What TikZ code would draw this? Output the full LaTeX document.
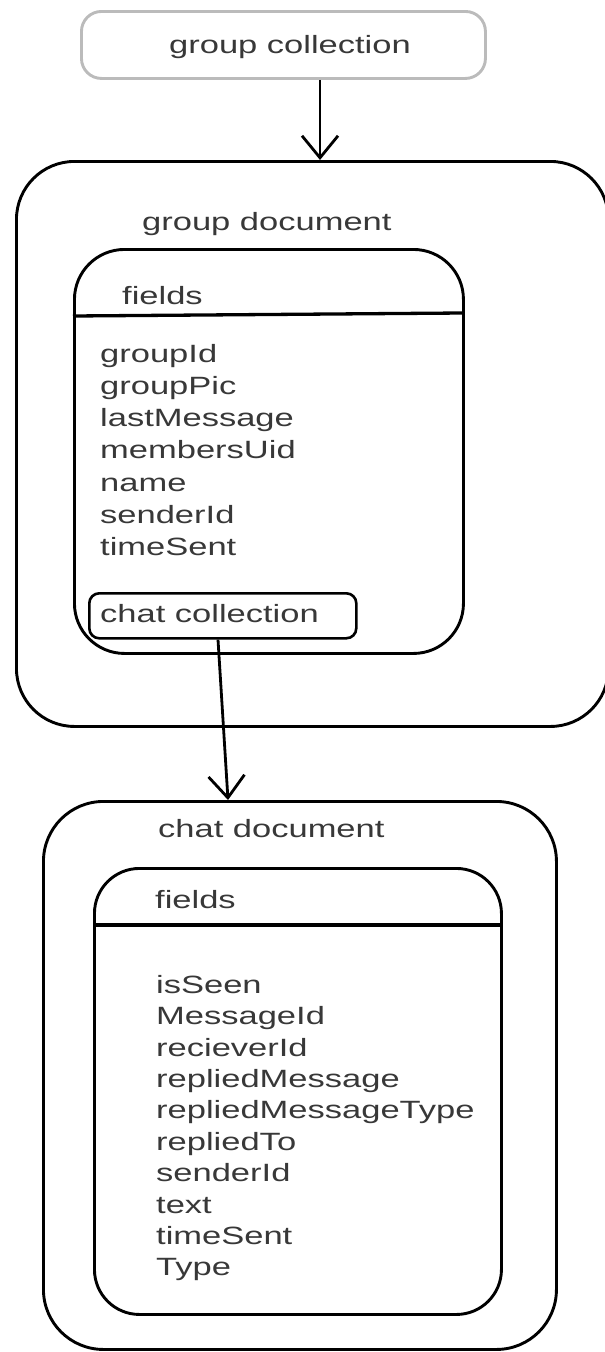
\documentclass[tikz,border=0pt]{standalone}
\usepackage{fontspec}
\setmainfont{Liberation Sans}[FakeStretch=1.38]
\usetikzlibrary{arrows.meta}
\definecolor{txt}{HTML}{383838}
\definecolor{lightborder}{HTML}{BBBBBB}
\tikzset{
  box/.style={draw=black, line width=2.9pt, anchor=north west, inner sep=0pt},
  lbl/.style={text=txt, font=\fontsize{25}{32.5}\selectfont, anchor=base west, inner sep=0pt},
  lst/.style={text=txt, anchor=north west, inner sep=0pt, align=left},
  conn/.style={line width=2.8pt, -{Straight Barb[length=22pt,width=36pt,line width=2.8pt]}},
  divider/.style={line width=3.3pt}
}
\begin{document}
\begin{tikzpicture}[x=1pt,y=-1pt]
\useasboundingbox (0,0) rectangle (605,1352);
% group collection
\node[box, draw=lightborder, rounded corners=20pt, minimum width=404pt, minimum height=67pt] (gc) at (80,10) {};
\node[lbl, anchor=base] (gct) at (290,53) {group collection};
% group document
\node[box, rounded corners=58pt, minimum width=592pt, minimum height=565pt] (gdoc) at (15,160) {};
\node[lbl] (gdt) at (142,230) {group document};
\node[box, rounded corners=50pt, minimum width=389pt, minimum height=404pt] (gf) at (73,248) {};
\coordinate (gdl) at (73,316);
\coordinate (gdr) at (462,313);
\draw[divider] (gdl) -- (gdr);
\node[lbl] (gft) at (122,304) {fields};
\node[lst, font=\fontsize{25}{32.2}\selectfont] (gl) at (100,344) {groupId\\groupPic\\lastMessage\\membersUid\\name\\senderId\\timeSent};
\node[box, line width=2.6pt, rounded corners=10pt, minimum width=267pt, minimum height=45pt] (cc) at (88,592) {};
\node[lbl] (cct) at (100,622) {chat collection};
% chat document
\node[box, rounded corners=60pt, minimum width=513pt, minimum height=548pt] (cdoc) at (42,800) {};
\node[lbl] (cdt) at (158,837) {chat document};
\node[box, rounded corners=45pt, minimum width=407pt, minimum height=446pt] (cf) at (93,867) {};
\coordinate (cdl) at (93,925);
\coordinate (cdr) at (500,925);
\draw[divider] (cdl) -- (cdr);
\node[lbl] (cft) at (155,908) {fields};
\node[lst, font=\fontsize{25}{31.4}\selectfont] (cl) at (156,975) {isSeen\\MessageId\\recieverId\\repliedMessage\\repliedMessageType\\repliedTo\\senderId\\text\\timeSent\\Type};
% connectors
\coordinate (a1) at (320,0);
\draw[conn] (gc.south -| a1) -- (gdoc.north -| a1);
\coordinate (b1) at (218,0);
\coordinate (b2) at (228,0);
\draw[conn] (cc.south -| b1) -- (cdoc.north -| b2);
\end{tikzpicture}
\end{document}
